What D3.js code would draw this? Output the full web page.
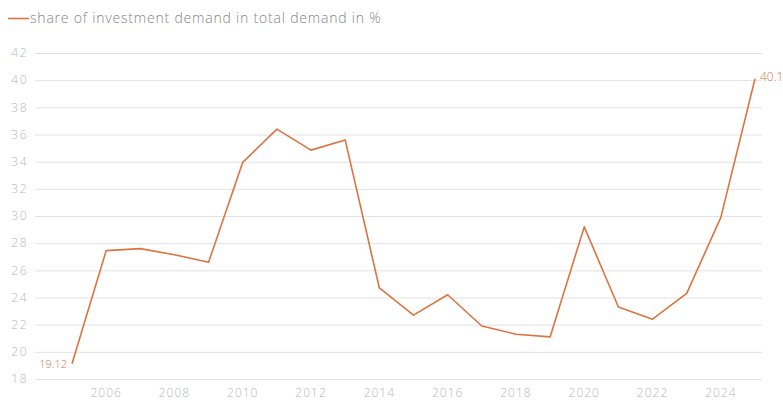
<!DOCTYPE html>
<meta charset="utf-8">
<script src="https://d3js.org/d3.v7.min.js"></script>
<style>
  body { margin: 0; background: #fff; }
  text { font-family: "Open Sans", "Lato", sans-serif; font-weight: 300; }
</style>
<div id="chart"></div>
<script>

// data
var years = [2005, 2006, 2007, 2008, 2009, 2010, 2011, 2012, 2013, 2014, 2015,
             2016, 2017, 2018, 2019, 2020, 2021, 2022, 2023, 2024, 2025];
var share = [19.12, 27.45, 27.6, 27.15, 26.6, 33.95, 36.4, 34.85, 35.6, 24.7, 22.7,
             24.2, 21.9, 21.3, 21.1, 29.2, 23.3, 22.4, 24.3, 29.9, 40.1];
var yTicks = [18, 20, 22, 24, 26, 28, 30, 32, 34, 36, 38, 40, 42];
var xTicks = [2006, 2008, 2010, 2012, 2014, 2016, 2018, 2020, 2022, 2024];
var seriesName = "share of investment demand in total demand in %";

var width = 783,
    height = 403,
    lineColor = "#dc7440";

var svg = d3.select("#chart").append("svg")
    .attr("width", width)
    .attr("height", height);

var x = d3.scaleLinear().domain([2005, 2025]).range([72, 755]);
var y = d3.scaleLinear().domain([18, 42]).range([379, 53]);

// gridlines
svg.append("g")
  .selectAll("line")
  .data(yTicks)
  .enter().append("line")
    .attr("x1", 35)
    .attr("x2", 762)
    .attr("y1", function(d) { return y(d) + 0.5; })
    .attr("y2", function(d) { return y(d) + 0.5; })
    .attr("stroke", "#e2e2e2")
    .attr("stroke-width", 1);

// y axis labels
svg.append("g")
  .selectAll("text")
  .data(yTicks)
  .enter().append("text")
    .attr("x", 28)
    .attr("y", function(d) { return y(d); })
    .attr("dy", "0.35em")
    .attr("text-anchor", "end")
    .style("font-size", "12px")
    .style("letter-spacing", "1.5px")
    .style("fill", "#b8b8b8")
    .text(function(d) { return d; });

// x axis labels
svg.append("g")
  .selectAll("text")
  .data(xTicks)
  .enter().append("text")
    .attr("x", function(d) { return x(d); })
    .attr("y", 397)
    .attr("text-anchor", "middle")
    .style("font-size", "12px")
    .style("letter-spacing", "1px")
    .style("fill", "#b8b8b8")
    .text(function(d) { return d; });

// the line
var line = d3.line()
    .x(function(d, i) { return x(years[i]); })
    .y(function(d) { return y(d); });

svg.append("path")
    .datum(share)
    .attr("d", line)
    .attr("fill", "none")
    .attr("stroke", lineColor)
    .attr("stroke-width", 1.6)
    .attr("stroke-linejoin", "round");

// first / last value labels
var last = share.length - 1;
svg.append("text")
    .attr("x", x(years[0]) - 5)
    .attr("y", y(share[0]))
    .attr("dy", "0.35em")
    .attr("text-anchor", "end")
    .style("font-size", "11px")
    .style("fill", lineColor)
    .text(share[0]);

svg.append("text")
    .attr("x", x(years[last]) + 5)
    .attr("y", y(share[last]) + 2)
    .style("font-size", "12px")
    .style("fill", lineColor)
    .text(share[last]);

// legend
svg.append("line")
    .attr("x1", 8).attr("x2", 29)
    .attr("y1", 18.5).attr("y2", 18.5)
    .attr("stroke", lineColor)
    .attr("stroke-width", 1.6);
svg.append("text")
    .attr("x", 30)
    .attr("y", 18)
    .attr("dy", "0.35em")
    .style("font-size", "14px")
    .style("letter-spacing", "0.8px")
    .style("fill", "#858585")
    .text(seriesName);

</script>
